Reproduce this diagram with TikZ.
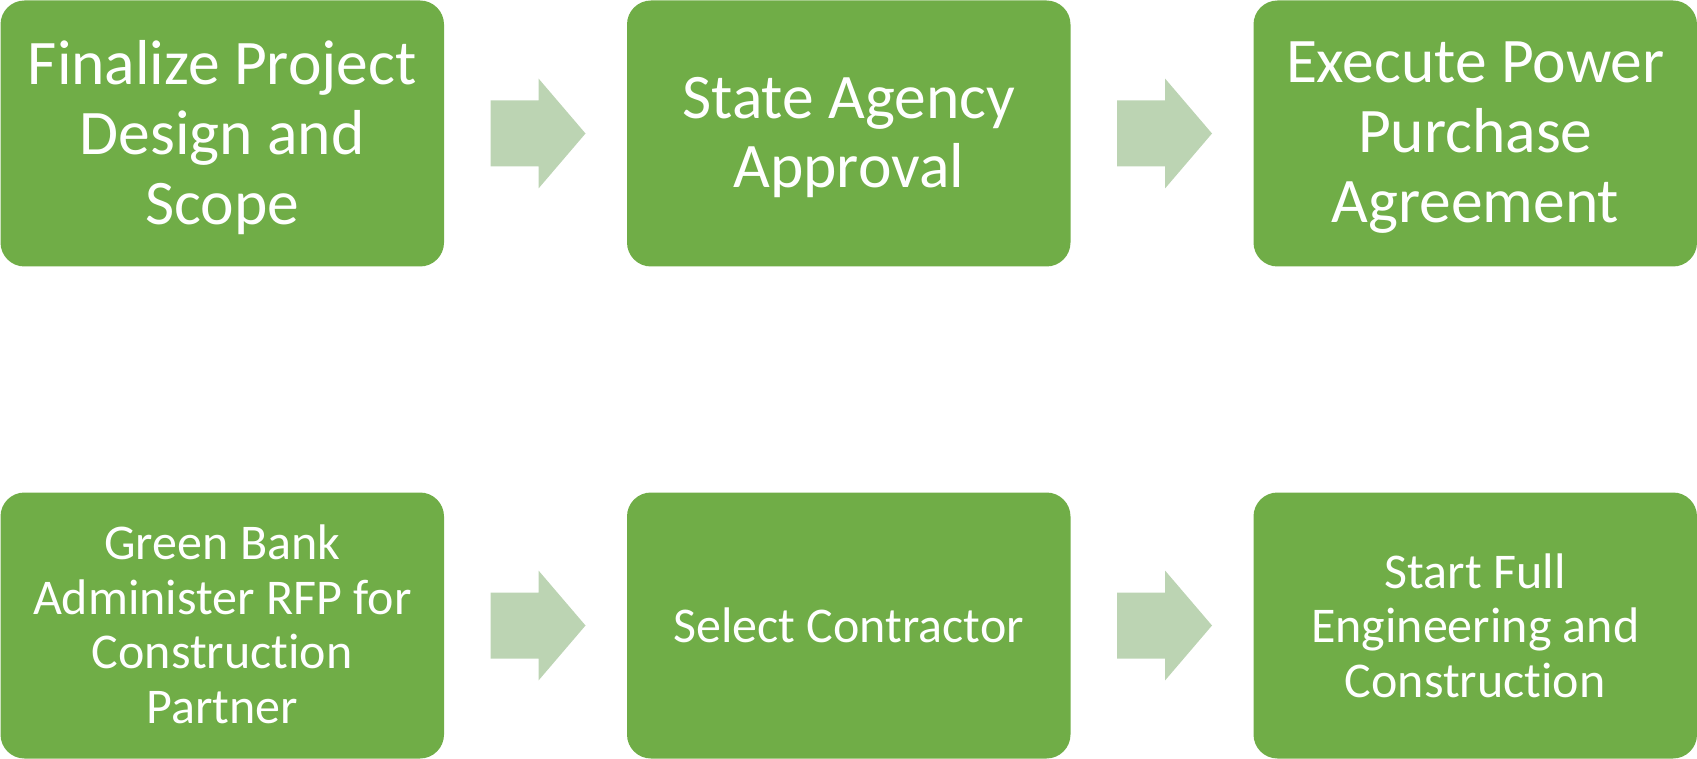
\documentclass[tikz,border=0pt]{standalone}
\usepackage{fontspec}
\setmainfont{Carlito}[Ligatures={NoCommon,NoRequired,NoContextual},Contextuals=NoAlternate]
\usetikzlibrary{calc}
\definecolor{boxgreen}{HTML}{70AD47}
\definecolor{arrowgreen}{HTML}{BCD4B3}
\newcommand{\tisep}{t\kern0pt i}
\tikzset{
  stepbox/.style={rectangle, rounded corners=24pt, fill=boxgreen, draw=none,
    minimum width=443.5pt, minimum height=266pt, inner sep=0pt, outer sep=0pt},
  steptext/.style={text=white, align=center, inner sep=0pt},
  bigtext/.style={steptext, font=\fontsize{63.5}{69.7}\selectfont},
  smalltext/.style={steptext, font=\fontsize{50}{54.5}\selectfont},
  flowarrow/.style={fill=arrowgreen, draw=none}
}
\newcommand{\blockarrow}[1]{%
  \fill[flowarrow] ($(#1)+(-47.5,-33)$) -- ($(#1)+(0.5,-33)$) -- ($(#1)+(0.5,-55)$)
    -- ($(#1)+(47.5,0)$) -- ($(#1)+(0.5,55)$) -- ($(#1)+(0.5,33)$)
    -- ($(#1)+(-47.5,33)$) -- cycle;}
\begin{document}
\begin{tikzpicture}[x=1pt,y=-1pt]
\useasboundingbox (0,0) rectangle (1697,759);
% boxes
\node[stepbox,anchor=north west] (b1) at (0.5,0.5) {};
\node[stepbox,anchor=north west] (b2) at (627,0.5) {};
\node[stepbox,anchor=north west] (b3) at (1253.5,0.5) {};
\node[stepbox,anchor=north west] (b4) at (0.5,492.5) {};
\node[stepbox,anchor=north west] (b5) at (627,492.5) {};
\node[stepbox,anchor=north west] (b6) at (1253.5,492.5) {};
% texts
\node[bigtext] (t1) at ($(b1.center)+(0,4)$) {Finalize Project\\Design and\\Scope};
\node[bigtext] (t2) at ($(b2.center)+(0,4)$) {State Agency\\Approval};
\node[bigtext] (t3) at ($(b3.center)+(0,4)$) {Execute Power\\Purchase\\Agreement};
\node[smalltext] (t4) at ($(b4.center)+(0,-1)$) {Green Bank\\Administer RFP for\\Construc\tisep on\\Partner};
\node[smalltext] (t5) at (b5.center) {Select Contractor};
\node[smalltext] (t6) at (b6.center) {Start Full\\Engineering and\\Construc\tisep on};
% arrows
\coordinate (a1) at ($($(b1.east)!0.5!(b2.west)$)+(2.5,0)$);
\coordinate (a2) at ($($(b2.east)!0.5!(b3.west)$)+(2.5,0)$);
\coordinate (a3) at ($($(b4.east)!0.5!(b5.west)$)+(2.5,0)$);
\coordinate (a4) at ($($(b5.east)!0.5!(b6.west)$)+(2.5,0)$);
\blockarrow{a1}
\blockarrow{a2}
\blockarrow{a3}
\blockarrow{a4}
\end{tikzpicture}
\end{document}
